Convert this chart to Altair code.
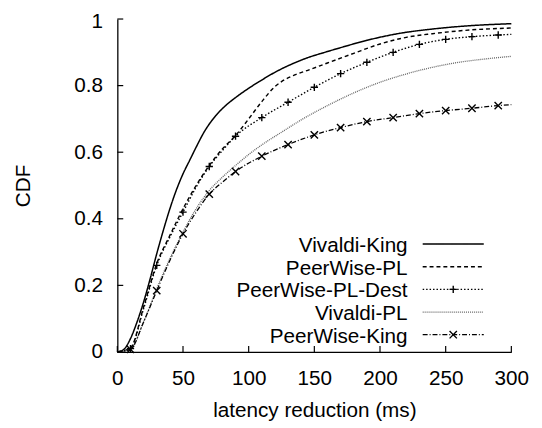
import altair as alt
import pandas as pd

# ---- data ----
series_names = ["Vivaldi-King", "PeerWise-PL", "PeerWise-PL-Dest", "Vivaldi-PL", "PeerWise-King"]

vk_x = [0, 5, 10, 15, 20, 25, 30, 35, 40, 45, 50, 55, 60, 66, 75, 83, 90, 100, 108, 120, 133, 145, 158, 170, 190, 215, 240, 265, 300]
vk_y = [0, 0.008, 0.04, 0.09, 0.15, 0.22, 0.295, 0.365, 0.43, 0.487, 0.535, 0.575, 0.615, 0.66, 0.71, 0.742, 0.764, 0.792, 0.812, 0.84, 0.865, 0.884, 0.90, 0.914, 0.936, 0.957, 0.97, 0.979, 0.986]

pl_x = [0, 10, 20, 30, 40, 50, 60, 70, 80, 90, 100, 110, 120, 125, 135, 145, 160, 180, 200, 220, 240, 265, 300]
pl_y = [0, 0.012, 0.135, 0.265, 0.35, 0.43, 0.50, 0.56, 0.61, 0.65, 0.70, 0.752, 0.797, 0.812, 0.832, 0.846, 0.868, 0.897, 0.925, 0.945, 0.956, 0.966, 0.973]

pld_x = [0, 10, 20, 30, 40, 50, 60, 70, 80, 90, 110, 130, 150, 170, 190, 210, 230, 250, 270, 290, 300]
pld_y = [0, 0.01, 0.13, 0.26, 0.345, 0.42, 0.495, 0.557, 0.605, 0.648, 0.704, 0.75, 0.795, 0.836, 0.87, 0.90, 0.924, 0.939, 0.947, 0.952, 0.954]

vpl_x = [0, 10, 20, 30, 40, 50, 60, 70, 80, 90, 100, 110, 125, 140, 160, 180, 200, 220, 240, 260, 280, 300]
vpl_y = [0, 0.008, 0.09, 0.19, 0.28, 0.36, 0.43, 0.485, 0.525, 0.56, 0.593, 0.622, 0.66, 0.697, 0.74, 0.778, 0.81, 0.835, 0.855, 0.87, 0.88, 0.888]

pk_x = [0, 10, 20, 30, 40, 50, 60, 70, 80, 90, 110, 130, 150, 170, 190, 210, 230, 250, 270, 290, 300]
pk_y = [0, 0.008, 0.09, 0.184, 0.275, 0.355, 0.42, 0.474, 0.51, 0.542, 0.588, 0.623, 0.652, 0.674, 0.692, 0.704, 0.716, 0.725, 0.732, 0.74, 0.743]

marker_x = [10, 30, 50, 70, 90, 110, 130, 150, 170, 190, 210, 230, 250, 270, 290]

x_ticks = [0, 50, 100, 150, 200, 250, 300]
y_ticks = [0, 0.2, 0.4, 0.6, 0.8, 1]

# ---- styles ----
dashes = [[1, 0], [4, 3], [1.5, 2], [1, 1], [5, 2, 1, 2]]
colors = ["#000000", "#000000", "#000000", "#666666", "#000000"]
widths = [1.5, 1.3, 1.3, 1.0, 1.3]
plus_path = "M-1,0L1,0M0,-1L0,1"
cross_path = "M-1,-1L1,1M-1,1L1,-1"

rows = []
for name, xs, ys in [
    ("Vivaldi-King", vk_x, vk_y),
    ("PeerWise-PL", pl_x, pl_y),
    ("PeerWise-PL-Dest", pld_x, pld_y),
    ("Vivaldi-PL", vpl_x, vpl_y),
    ("PeerWise-King", pk_x, pk_y),
]:
    for a, b in zip(xs, ys):
        rows.append({"series": name, "x": a, "y": b})
df = pd.DataFrame(rows)

mk = df[df["series"].isin(["PeerWise-PL-Dest", "PeerWise-King"]) & df["x"].isin(marker_x)]

leg = pd.DataFrame({"series": series_names, "idx": list(range(len(series_names)))})

H = 338
xscale = alt.Scale(domain=[0, 300], nice=False, zero=False)
yscale = alt.Scale(domain=[0, 1], nice=False)
dash_enc = alt.StrokeDash("series:N", scale=alt.Scale(domain=series_names, range=dashes), legend=None)
color_enc = alt.Color("series:N", scale=alt.Scale(domain=series_names, range=colors), legend=None)
width_enc = alt.StrokeWidth("series:N", scale=alt.Scale(domain=series_names, range=widths), legend=None)
shape_enc = alt.Shape("series:N", scale=alt.Scale(domain=["PeerWise-PL-Dest", "PeerWise-King"], range=[plus_path, cross_path]), legend=None)

lines = alt.Chart(df).mark_line(interpolate="monotone").encode(
    x=alt.X("x:Q", scale=xscale,
            axis=alt.Axis(values=x_ticks, title="latency reduction (ms)", ticks=False,
                          labelPadding=16, titlePadding=12, labelFlush=False, grid=False)),
    y=alt.Y("y:Q", scale=yscale,
            axis=alt.Axis(values=y_ticks, format="~g", title="CDF", ticks=False,
                          labelPadding=15, titlePadding=41, labelFlush=False, grid=False,
                          labelOffset={"condition": {"test": "datum.value >= 1", "value": 3}, "value": 0})),
    detail="series:N",
    strokeDash=dash_enc,
    color=color_enc,
    strokeWidth=width_enc,
)

markers = alt.Chart(mk).mark_point(filled=False, size=55, strokeWidth=1.4, color="black", opacity=1).encode(
    x=alt.X("x:Q", scale=xscale),
    y=alt.Y("y:Q", scale=yscale),
    shape=shape_enc,
)

xt = alt.Chart(pd.DataFrame({"v": x_ticks})).mark_rule(color="black", strokeWidth=1.2).encode(
    x=alt.X("v:Q", scale=xscale), y=alt.value(H), y2=alt.value(H - 6)
)
yt = alt.Chart(pd.DataFrame({"v": y_ticks})).mark_rule(color="black", strokeWidth=1.2).encode(
    y=alt.Y("v:Q", scale=yscale), x=alt.value(0), x2=alt.value(6)
)

leg_base = alt.Chart(leg).transform_calculate(ly="228.5 + 23 * datum.idx")
leg_text = leg_base.mark_text(align="right", baseline="middle", fontSize=21, dy=2,
                              font="Liberation Sans", color="black").encode(
    x=alt.value(294.7), y=alt.Y("ly:Q", scale=None, axis=None), text="series:N"
)
leg_rule = leg_base.mark_rule().encode(
    x=alt.value(310), x2=alt.value(372), y=alt.Y("ly:Q", scale=None, axis=None),
    strokeDash=dash_enc, color=color_enc, strokeWidth=width_enc,
)
leg_mk = leg_base.transform_filter(
    alt.FieldOneOfPredicate(field="series", oneOf=["PeerWise-PL-Dest", "PeerWise-King"])
).mark_point(filled=False, size=55, strokeWidth=1.4, color="black", opacity=1).encode(
    x=alt.value(341), y=alt.Y("ly:Q", scale=None, axis=None), shape=shape_enc,
)

chart = alt.layer(lines, markers, xt, yt, leg_rule, leg_text, leg_mk).properties(
    width=400, height=H,
    autosize=alt.AutoSizeParams(type="none"),
    padding={"left": 111, "top": 8, "right": 23, "bottom": 74},
    background="white",
).configure_view(stroke=None).configure_axis(
    labelFont="Liberation Sans", titleFont="Liberation Sans",
    labelFontSize=21, titleFontSize=21, titleFontWeight="normal",
    labelColor="black", titleColor="black", domainColor="black", domainWidth=1.3,
)

chart.save("out.html", embed_options={"renderer": "svg", "actions": False})
